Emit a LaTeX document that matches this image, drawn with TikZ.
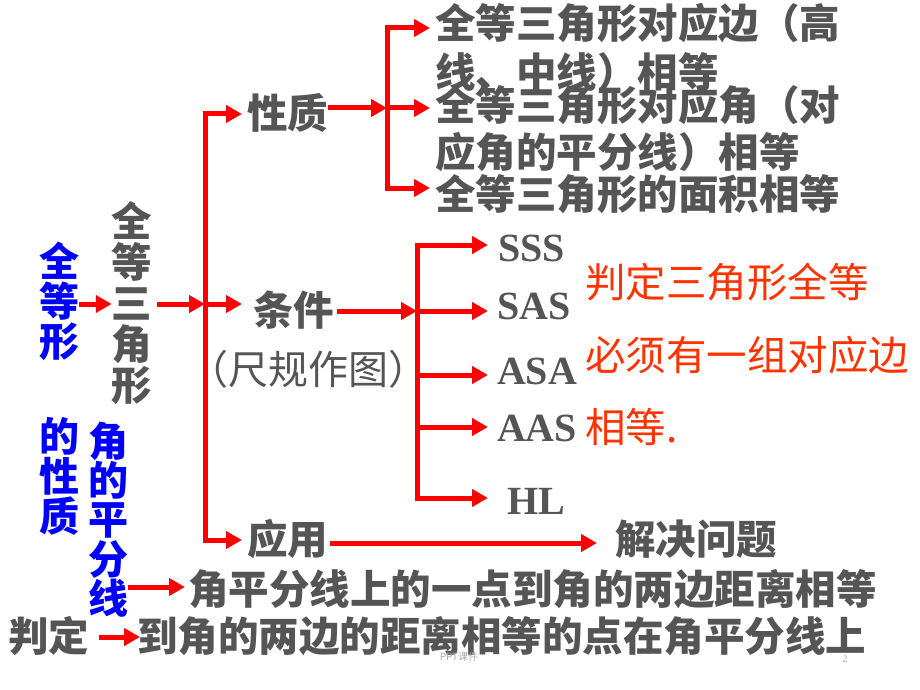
\documentclass[tikz,border=0pt]{standalone}
\usepackage{fontspec}
\newfontfamily\cjk{Noto Sans CJK SC}
\newfontfamily\tnr{Liberation Serif}
\usetikzlibrary{arrows.meta}
\definecolor{txtgray}{RGB}{85,85,85}
\definecolor{arrred}{RGB}{255,0,0}
\definecolor{blu}{RGB}{0,0,255}
\definecolor{ored}{RGB}{255,51,0}
\definecolor{foot}{RGB}{170,170,170}
\begin{document}
\begin{tikzpicture}[x=1pt,y=-1pt,
  txt/.style={inner sep=0pt, outer sep=0pt, font=\cjk\bfseries\fontsize{40.5}{48}\selectfont, text height=33pt, text depth=3.3pt, text=txtgray},
  lefttxt/.style={txt, anchor=west},
  bch/.style={txt, text=blu, font=\cjk\bfseries\fontsize{40}{48}\selectfont},
  rtxt/.style={txt, anchor=west, text=ored, font=\cjk\fontsize{40.5}{48}\selectfont},
  lat/.style={inner sep=0pt, outer sep=0pt, anchor=west, font=\tnr\bfseries\fontsize{40}{48}\selectfont, text height=27.6pt, text depth=0.8pt, text=txtgray},
  ln/.style={draw=arrred, line width=5pt},
  arr/.style={ln, -{Triangle[length=16pt,width=17pt]}},
]
\fill[white] (0,0) rectangle (920,690);
\useasboundingbox (0,0) rectangle (920,690);

% blue vertical texts
\foreach \c [count=\i] in {全,等,形} \node[bch] (qd\i) at (59,222+40*\i) {\c};
\foreach \c [count=\i] in {的,性,质} \node[bch] (xz\i) at (59,397+40*\i) {\c};
\foreach \c [count=\i] in {角,的,平,分,线} \node[bch] (jl\i) at (108,402+39.3*\i) {\c};
% gray vertical
\foreach \c [count=\i] in {全,等,三,角,形} \node[txt] (tri\i) at (132,181+41*\i) {\c};

% first level
\node[lefttxt] (xz) at (247,114) {性质};
\node[lefttxt] (tj) at (253,311) {条件};
\node[txt, font=\cjk\fontsize{40}{48}\selectfont] (cg) at (308,370) {（尺规作图）};
\node[lefttxt] (yy) at (247,540) {应用};
\node[lefttxt] (jj) at (615,540) {解决问题};

% properties
\node[lefttxt] (p1a) at (435,24) {全等三角形对应边（高};
\node[lefttxt] (p1b) at (435,73) {线、中线）相等};
\node[lefttxt] (p2a) at (435,106) {全等三角形对应角（对};
\node[lefttxt] (p2b) at (435,153) {应角的平分线）相等};
\node[lefttxt] (p3) at (435,195) {全等三角形的面积相等};

% criteria
\node[lat] (sss) at (498,248) {SSS};
\node[lat] (sas) at (497,306) {SAS};
\node[lat] (asa) at (497,371) {ASA};
\node[lat] (aas) at (497,428) {AAS};
\node[lat] (hl) at (507,501) {HL};

% red notes
\node[rtxt] (r1) at (585,283) {判定三角形全等};
\node[rtxt] (r2) at (585,356) {必须有一组对应边};
\node[rtxt] (r3) at (585,428) {相等.};

% bottom lines
\node[lefttxt] (l1) at (188,590) {角平分线上的一点到角的两边距离相等};
\node[txt] (pd) at (49,637) {判定};
\node[lefttxt] (l2) at (137,637) {到角的两边的距离相等的点在角平分线上};

% footer
\node[inner sep=0pt, font=\cjk\fontsize{10}{12}\selectfont, text=foot] (ft) at (459,657) {PPT课件};
\node[inner sep=0pt, font=\tnr\fontsize{10}{12}\selectfont, text=foot] (pg) at (845,659) {2};

% coordinates
\coordinate (J1) at (205,304);
\coordinate (J2) at (387,108);
\coordinate (b1) at (430,28);
\coordinate (b2) at (430,108);
\coordinate (b3) at (430,188);
\coordinate (J3) at (417,311);
\coordinate (c1) at (488,245);
\coordinate (c2) at (488,311);
\coordinate (c3) at (488,375);
\coordinate (c4) at (488,427);
\coordinate (c5) at (488,498);

% connectors
\draw[arr] ([yshift=-2pt]qd2.east) -- ([yshift=-2pt]qd2.east -| tri3.west);
\draw[arr] ([xshift=5pt]tri3.east) -- (J1);
\draw[arr, shorten >=5pt] (J1) |- (xz.west);
\draw[arr, shorten >=5pt] (J1) |- (yy.west);
\draw[arr, shorten >=11pt] (J1) -- (J1 -| tj.west);

\draw[arr] (xz.east |- J2) -- (J2);
\draw[arr] (J2) |- (b1);
\draw[arr] (J2) -- (b2);
\draw[arr] (J2) |- (b3);

\draw[arr] ([xshift=3pt]tj.east |- J3) -- (J3);
\draw[arr] (J3) |- (c1);
\draw[arr] (J3) -- (c2);
\draw[arr] (J3) |- (c3);
\draw[arr] (J3) |- (c4);
\draw[arr] (J3) |- (c5);

\draw[arr] ([xshift=2pt,yshift=-3pt]yy.east) -- ([xshift=-18pt,yshift=-3pt]jj.west);
\draw[arr] ([yshift=3pt]jl5.east |- l1.west) -- ([xshift=-3pt,yshift=3pt]l1.west);
\draw[arr] ([xshift=9pt]pd.east) -- ([xshift=3pt]l2.west);
\end{tikzpicture}
\end{document}
